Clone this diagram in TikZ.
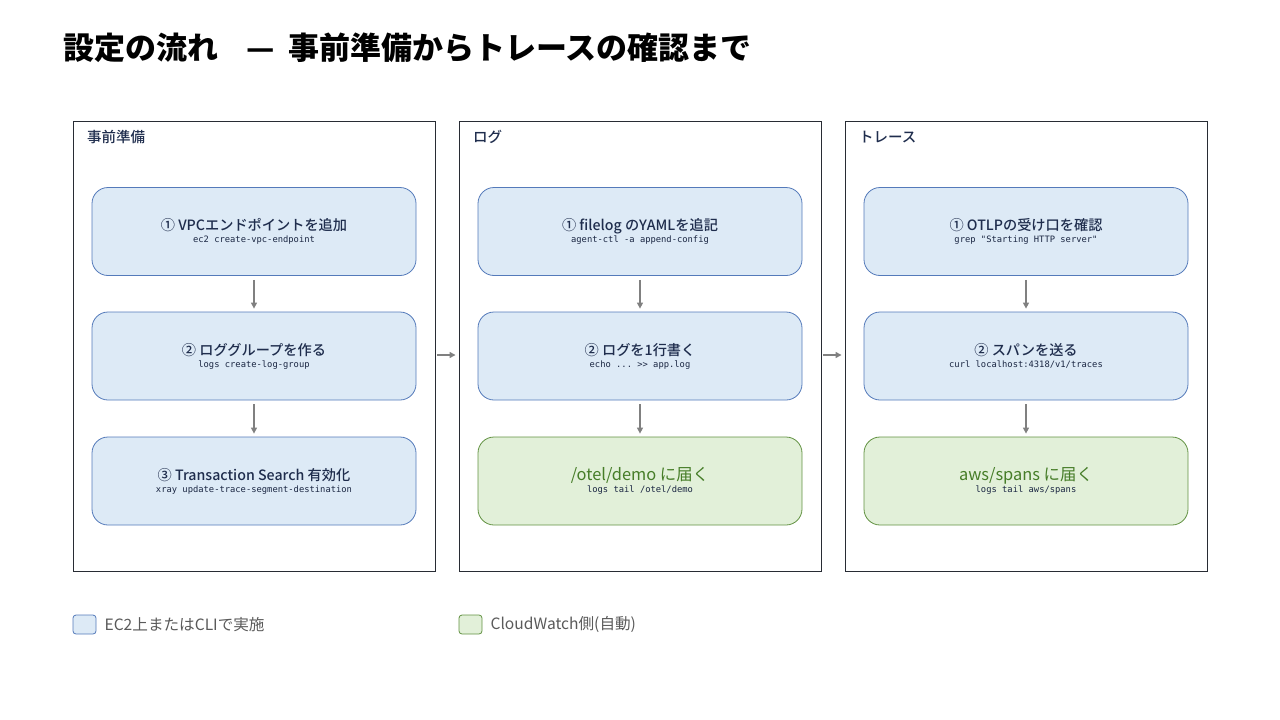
\documentclass[tikz,border=0pt]{standalone}
\usepackage{fontspec}
\setmainfont{Noto Sans CJK JP}
\setmonofont{DejaVu Sans Mono}
\newfontfamily\medfont{Noto Sans CJK JP Medium}
\definecolor{ink}{RGB}{31, 45, 77}
\definecolor{frame}{RGB}{40, 44, 52}
\definecolor{bluefill}{RGB}{221, 234, 246}
\definecolor{blueline}{RGB}{84, 122, 186}
\definecolor{greenfill}{RGB}{226, 240, 217}
\definecolor{greenline}{RGB}{98, 146, 66}
\definecolor{greentext}{RGB}{70, 125, 40}
\definecolor{arrowgray}{RGB}{128, 128, 128}
\definecolor{legendgray}{RGB}{90, 90, 90}
\usetikzlibrary{arrows.meta, positioning}
\tikzset{
    panel/.style={
        rectangle,
        draw=frame,
        line width=0.9pt,
        minimum width=362pt,
        minimum height=450pt
    },
    paneltitle/.style={
        anchor=west,
        inner sep=0pt,
        text=ink,
        font=\medfont\fontsize{14.5}{16}\selectfont
    },
    stepbox/.style={
        rectangle,
        draw=blueline,
        fill=bluefill,
        line width=0.8pt,
        rounded corners=16pt,
        minimum width=324pt,
        minimum height=88pt,
        align=center,
        text=ink,
        font=\medfont\fontsize{14.2}{12}\selectfont
    },
    donebox/.style={
        stepbox,
        draw=greenline,
        fill=greenfill,
        text=greentext,
        font=\fontsize{16.4}{12}\selectfont
    },
    legendbox/.style={
        rectangle,
        rounded corners=3pt,
        line width=0.8pt,
        minimum width=23pt,
        minimum height=19pt,
        inner sep=0pt
    },
    legendtext/.style={
        anchor=west,
        inner sep=0pt,
        text=legendgray,
        font=\fontsize{15.6}{17}\selectfont
    },
    arrowstyle/.style={->, line width=1.3pt, >={Triangle[length=6pt, width=6pt]}, color=arrowgray}
}
\newcommand{\stepcode}[1]{{\color{ink!85!black}\fontsize{8.8}{12}\ttfamily #1}}

\begin{document}
\begin{tikzpicture}[x=1pt, y=-1pt]
          \useasboundingbox (0,0) rectangle (1280,720);
          \node[anchor=west, inner sep=0pt, font=\fontsize{31}{34}\selectfont\bfseries] (title) at (63,48) {設定の流れ\hspace{0.92em}—\hspace{0.43em}事前準備からトレースの確認まで};

          % panels
          \node[panel] (prep) at (254,346) {};
          \node[panel] (logs) at (640,346) {};
          \node[panel] (trace) at (1026,346) {};
          \node[paneltitle] (preptitle) at (87,137) {事前準備};
          \node[paneltitle] (logstitle) at (473,137) {ログ};
          \node[paneltitle] (tracetitle) at (859,137) {トレース};

          % 事前準備
          \node[stepbox] (vpc) at (254,231.5) {① VPCエンドポイントを追加\\\stepcode{ec2 create-vpc-endpoint}};
          \node[stepbox] (group) at (254,356) {② ロググループを作る\\\stepcode{logs create-log-group}};
          \node[stepbox] (search) at (254,481) {③ Transaction Search 有効化\\\stepcode{xray update-trace-segment-destination}};

          % ログ
          \node[stepbox] (filelog) at (640,231.5) {① filelog のYAMLを追記\\\stepcode{agent-ctl -a append-config}};
          \node[stepbox] (write) at (640,356) {② ログを1行書く\\\stepcode{echo ... >> app.log}};
          \node[donebox] (demo) at (640,481) {/otel/demo に届く\\\stepcode{logs tail /otel/demo}};

          % トレース
          \node[stepbox] (otlp) at (1026,231.5) {① OTLPの受け口を確認\\\stepcode{grep "Starting HTTP server"}};
          \node[stepbox] (send) at (1026,356) {② スパンを送る\\\stepcode{curl localhost:4318/v1/traces}};
          \node[donebox] (spans) at (1026,481) {aws/spans に届く\\\stepcode{logs tail aws/spans}};

          \draw[arrowstyle, shorten <=4pt, shorten >=3pt] (vpc) -- (group);
          \draw[arrowstyle, shorten <=4pt, shorten >=3pt] (group) -- (search);
          \draw[arrowstyle, shorten <=4pt, shorten >=3pt] (filelog) -- (write);
          \draw[arrowstyle, shorten <=4pt, shorten >=3pt] (write) -- (demo);
          \draw[arrowstyle, shorten <=4pt, shorten >=3pt] (otlp) -- (send);
          \draw[arrowstyle, shorten <=4pt, shorten >=3pt] (send) -- (spans);
          \draw[arrowstyle, shorten <=2pt, shorten >=3pt] (prep.east |- 0,355) -- (logs.west |- 0,355);
          \draw[arrowstyle, shorten <=2pt, shorten >=3pt] (logs.east |- 0,355) -- (trace.west |- 0,355);

          % legend
          \node[legendbox, draw=blueline, fill=bluefill] (ec2key) at (84.5,624.5) {};
          \node[legendtext, right=8pt of ec2key] (ec2label) {EC2上またはCLIで実施};
          \node[legendbox, draw=greenline, fill=greenfill] (cwkey) at (470.5,624.5) {};
          \node[legendtext, right=8pt of cwkey] (cwlabel) {CloudWatch側(自動)};
        \end{tikzpicture}
\end{document}
